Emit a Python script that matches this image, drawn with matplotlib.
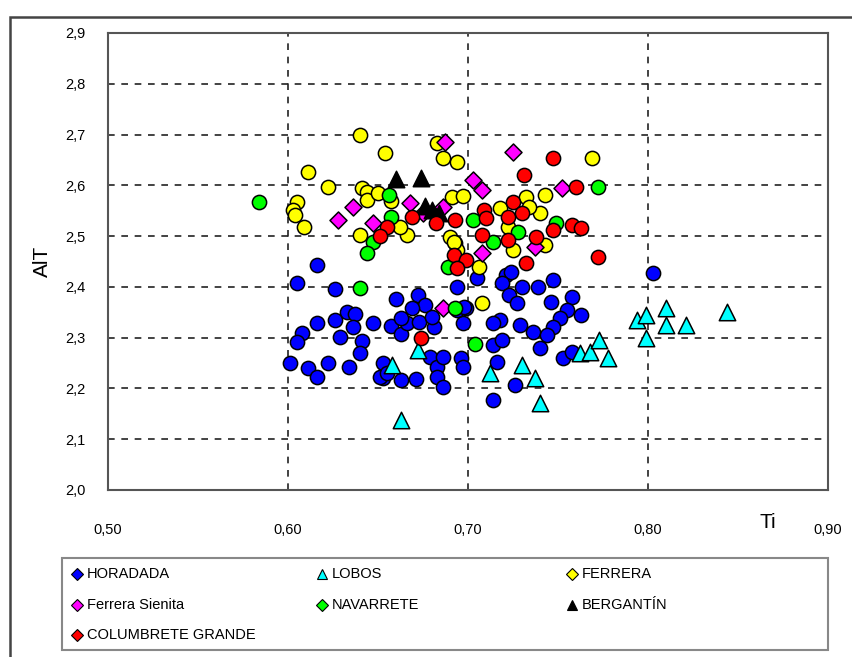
import matplotlib.pyplot as plt
from matplotlib.patches import Rectangle
from matplotlib.lines import Line2D

plt.rcParams['font.family'] = ['Liberation Sans', 'DejaVu Sans']

# HORADADA (Ti, AlT)
hor_ti = [0.616, 0.605, 0.626, 0.660, 0.672, 0.676, 0.669, 0.633, 0.637, 0.616,
          0.626, 0.636, 0.647, 0.657, 0.663, 0.666, 0.673, 0.681, 0.608, 0.605,
          0.629, 0.641, 0.640, 0.634, 0.601, 0.611, 0.616, 0.622, 0.653, 0.653,
          0.663, 0.671, 0.679, 0.683, 0.683, 0.686, 0.696, 0.697, 0.694, 0.705,
          0.699, 0.721, 0.724, 0.719, 0.730, 0.739, 0.747, 0.723, 0.727, 0.746,
          0.758, 0.755, 0.763, 0.751, 0.747, 0.718, 0.714, 0.729, 0.736, 0.744,
          0.740, 0.714, 0.719, 0.753, 0.758, 0.716, 0.726, 0.714, 0.697, 0.686,
          0.694, 0.698, 0.803, 0.651, 0.663, 0.680, 0.655]
hor_al = [2.443, 2.407, 2.396, 2.376, 2.384, 2.364, 2.358, 2.350, 2.346, 2.329,
          2.335, 2.321, 2.329, 2.323, 2.307, 2.329, 2.331, 2.321, 2.309, 2.291,
          2.301, 2.293, 2.270, 2.242, 2.250, 2.240, 2.222, 2.250, 2.250, 2.220,
          2.217, 2.219, 2.262, 2.242, 2.222, 2.203, 2.260, 2.329, 2.400, 2.417,
          2.358, 2.423, 2.429, 2.407, 2.400, 2.400, 2.413, 2.384, 2.368, 2.370,
          2.380, 2.354, 2.344, 2.339, 2.321, 2.335, 2.329, 2.325, 2.311, 2.305,
          2.280, 2.285, 2.295, 2.260, 2.272, 2.252, 2.207, 2.177, 2.242, 2.262,
          2.354, 2.360, 2.427, 2.222, 2.339, 2.340, 2.230]

# LOBOS
lob_ti = [0.658, 0.663, 0.672, 0.712, 0.730, 0.737, 0.740, 0.762, 0.768, 0.773,
          0.778, 0.794, 0.799, 0.799, 0.810, 0.810, 0.821, 0.844]
lob_al = [2.246, 2.138, 2.276, 2.230, 2.246, 2.220, 2.171, 2.270, 2.272, 2.295,
          2.260, 2.335, 2.344, 2.299, 2.358, 2.325, 2.325, 2.350]

# FERRERA
fer_ti = [0.640, 0.654, 0.611, 0.622, 0.605, 0.603, 0.604, 0.609, 0.641, 0.644,
          0.644, 0.640, 0.666, 0.683, 0.686, 0.694, 0.769, 0.691, 0.697, 0.743,
          0.732, 0.740, 0.734, 0.718, 0.690, 0.693, 0.694, 0.722, 0.725, 0.743,
          0.706, 0.708, 0.662, 0.692, 0.657, 0.650]
fer_al = [2.699, 2.663, 2.626, 2.596, 2.567, 2.551, 2.541, 2.518, 2.594, 2.587,
          2.571, 2.502, 2.502, 2.683, 2.653, 2.646, 2.653, 2.577, 2.579, 2.581,
          2.577, 2.545, 2.557, 2.555, 2.498, 2.486, 2.472, 2.518, 2.472, 2.482,
          2.439, 2.368, 2.518, 2.488, 2.570, 2.585]

# Ferrera Sienita
sie_ti = [0.628, 0.636, 0.647, 0.668, 0.686, 0.687, 0.703, 0.708, 0.725, 0.752,
          0.708, 0.737, 0.686, 0.675]
sie_al = [2.532, 2.557, 2.525, 2.565, 2.557, 2.685, 2.610, 2.591, 2.665, 2.594,
          2.466, 2.478, 2.358, 2.545]

# NAVARRETE
nav_ti = [0.584, 0.656, 0.657, 0.647, 0.644, 0.640, 0.693, 0.704, 0.772, 0.703,
          0.728, 0.714, 0.749, 0.689]
nav_al = [2.567, 2.581, 2.537, 2.488, 2.466, 2.398, 2.358, 2.287, 2.596, 2.531,
          2.508, 2.488, 2.525, 2.439]

# BERGANTÍN
ber_ti = [0.660, 0.674, 0.676, 0.680, 0.684]
ber_al = [2.612, 2.614, 2.560, 2.552, 2.545]

# COLUMBRETE GRANDE
col_ti = [0.669, 0.655, 0.651, 0.682, 0.693, 0.747, 0.731, 0.760, 0.725, 0.709,
          0.710, 0.722, 0.730, 0.708, 0.722, 0.738, 0.747, 0.758, 0.763, 0.692,
          0.699, 0.694, 0.732, 0.772, 0.674]
col_al = [2.537, 2.518, 2.500, 2.525, 2.531, 2.654, 2.620, 2.596, 2.567, 2.551,
          2.535, 2.537, 2.545, 2.502, 2.492, 2.498, 2.512, 2.522, 2.516, 2.463,
          2.453, 2.437, 2.447, 2.459, 2.299]

series = [
    ("HORADADA", hor_ti, hor_al, 'o', '#0000ff', 105),
    ("LOBOS", lob_ti, lob_al, '^', '#00ffff', 140),
    ("FERRERA", fer_ti, fer_al, 'o', '#ffff00', 105),
    ("Ferrera Sienita", sie_ti, sie_al, 'D', '#ff00ff', 75),
    ("NAVARRETE", nav_ti, nav_al, 'o', '#00ff00', 105),
    ("BERGANTÍN", ber_ti, ber_al, '^', '#000000', 140),
    ("COLUMBRETE GRANDE", col_ti, col_al, 'o', '#ff0000', 105),
]

fig = plt.figure(figsize=(8.52, 6.57), dpi=100)
ax = fig.add_axes([0.1268, 0.2542, 0.8450, 0.6956])

for i, (name, xs, ys, mk, c, s) in enumerate(series):
    ax.scatter(xs, ys, marker=mk, s=s, c=c, edgecolors='black', linewidths=1.1, zorder=3 + i)

ax.set_xlim(0.5, 0.9)
ax.set_ylim(2.0, 2.9)
ax.set_xticks([0.5, 0.6, 0.7, 0.8, 0.9])
ax.set_yticks([2.0, 2.1, 2.2, 2.3, 2.4, 2.5, 2.6, 2.7, 2.8, 2.9])
ax.set_xticklabels(["0,50", "0,60", "0,70", "0,80", "0,90"])
ax.set_yticklabels(["2,0", "2,1", "2,2", "2,3", "2,4", "2,5", "2,6", "2,7", "2,8", "2,9"])
ax.tick_params(axis='x', length=0, pad=24, labelsize=10.5)
ax.tick_params(axis='y', length=0, pad=16, labelsize=10.5)
ax.grid(True, linestyle=(0, (4, 4)), color='#222222', linewidth=1.2)
for sp in ax.spines.values():
    sp.set_color('#555555')
    sp.set_linewidth(1.5)

ax.set_ylabel("AlT", fontsize=15, labelpad=10)
fig.text(768 / 852, 1 - 523 / 657, "Ti", fontsize=15, ha='center', va='center')

# outer chart frame
fig.add_artist(Rectangle((10 / 852, -0.05), 1.0, 1 - 17 / 657 + 0.05,
                         transform=fig.transFigure, fill=False,
                         edgecolor='#444444', linewidth=1.8))

# legend box
lx0, ly0, lx1, ly1 = 62 / 852, 1 - 650 / 657, 828 / 852, 1 - 558 / 657
fig.add_artist(Rectangle((lx0, ly0), lx1 - lx0, ly1 - ly0, transform=fig.transFigure,
                         fill=False, edgecolor='#888888', linewidth=1.5))
col_x = [77, 322, 572]
row_y = [574, 605, 635]
for i, (name, xs, ys, mk, c, s) in enumerate(series):
    r, k = divmod(i, 3)
    px, py = col_x[k] / 852, 1 - row_y[r] / 657
    lm = '^' if mk == '^' else 'D'
    fig.add_artist(Line2D([px], [py], marker=lm, markersize=6 if lm == 'D' else 7,
                          markerfacecolor=c, markeredgecolor='black', markeredgewidth=0.8,
                          linestyle='none', transform=fig.transFigure))
    fig.text(px + 10 / 852, py, name, fontsize=10.5, ha='left', va='center')

fig.savefig("out.png", dpi=100)
